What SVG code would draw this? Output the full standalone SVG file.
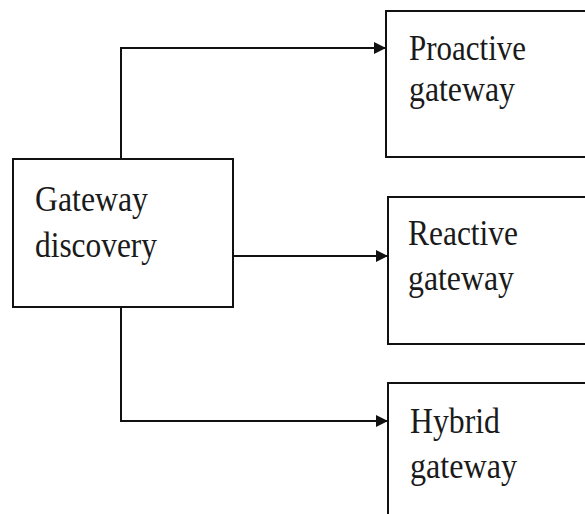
<svg xmlns="http://www.w3.org/2000/svg" width="585" height="514" viewBox="0 0 585 514">
<style>
.box{fill:#fff;stroke:#111;stroke-width:2}
.t{font-family:"Liberation Serif","Times New Roman",serif;font-size:35px;fill:#1a1a1a}
.c{fill:none;stroke:#111;stroke-width:2}
</style>
<defs>
<marker id="ah" viewBox="0 0 12 12" refX="12" refY="6" markerWidth="12" markerHeight="12" markerUnits="userSpaceOnUse" orient="auto">
<path d="M0,0 L12,6 L0,12 Z" fill="#111"/>
</marker>
</defs>
<rect width="585" height="514" fill="#fff"/>
<g id="connectors">
<path class="c" d="M121,159 V48 H386" marker-end="url(#ah)"/>
<path class="c" d="M233,256 H388" marker-end="url(#ah)"/>
<path class="c" d="M121,307 V421 H388" marker-end="url(#ah)"/>
</g>
<g id="gateway-discovery">
<rect class="box" x="13" y="159" width="220" height="148"/>
<text class="t" x="35" y="211" textLength="113" lengthAdjust="spacingAndGlyphs">Gateway</text>
<text class="t" x="35" y="257" textLength="122" lengthAdjust="spacingAndGlyphs">discovery</text>
</g>
<g id="proactive-gateway">
<rect class="box" x="386" y="11" width="210" height="146"/>
<text class="t" x="409" y="60" textLength="117" lengthAdjust="spacingAndGlyphs">Proactive</text>
<text class="t" x="409" y="101" textLength="106" lengthAdjust="spacingAndGlyphs">gateway</text>
</g>
<g id="reactive-gateway">
<rect class="box" x="388" y="197" width="210" height="147"/>
<text class="t" x="408" y="245" textLength="110" lengthAdjust="spacingAndGlyphs">Reactive</text>
<text class="t" x="408" y="290" textLength="106" lengthAdjust="spacingAndGlyphs">gateway</text>
</g>
<g id="hybrid-gateway">
<rect class="box" x="388" y="383" width="210" height="150"/>
<text class="t" x="410" y="433" textLength="90" lengthAdjust="spacingAndGlyphs">Hybrid</text>
<text class="t" x="410" y="478" textLength="107" lengthAdjust="spacingAndGlyphs">gateway</text>
</g>
</svg>
